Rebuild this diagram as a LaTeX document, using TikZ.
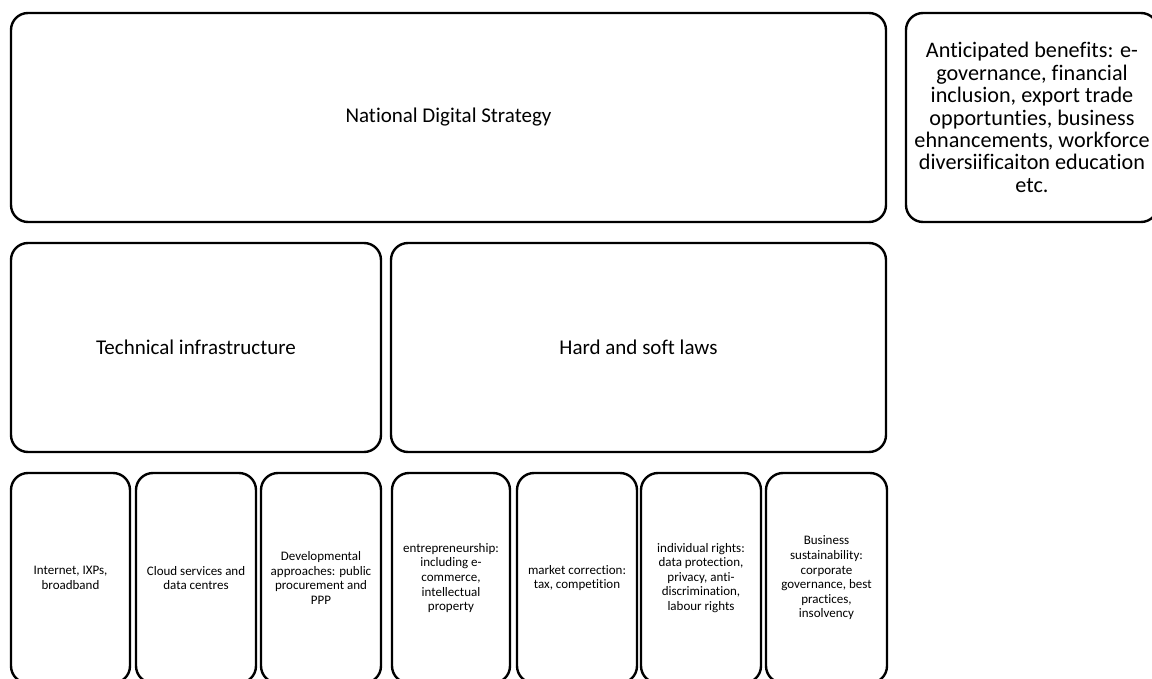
\documentclass[tikz,border=0pt]{standalone}
\usepackage{fontspec}
\setmainfont{Carlito}[Ligatures=NoCommon]
\begin{document}
\begin{tikzpicture}[x=1pt,y=-1pt,
  panel/.style={draw=black, line width=2.4pt, rounded corners=17pt, fill=white,
    inner sep=0pt, align=center},
  bigtext/.style={font=\fontsize{21}{25}\selectfont},
  smalltext/.style={font=\fontsize{13}{14.6}\selectfont},
  sidetext/.style={font=\fontsize{22.2}{22.4}\selectfont}]
\useasboundingbox (0,0) rectangle (1152,679);
\clip (0,0) rectangle (1152,679);
% top row
\node[panel, bigtext, minimum width=875pt, minimum height=209pt] (nds) at (448.5,117.5) {National Digital Strategy};
\node[panel, minimum width=252pt, minimum height=209pt] (benefits) at (1032,117.5) {};
\node[sidetext, align=center, inner sep=0pt] (benefitstext) at (benefits.center)
  {Anticipated benefits: e-\\governance, financial\\inclusion, export trade\\opportunties, business\\ehnancements, workforce\\diversiificaiton education\\etc.};
% middle row
\node[panel, bigtext, minimum width=370pt, minimum height=209pt] (tech) at (196,347.5) {Technical infrastructure};
\node[panel, bigtext, minimum width=495pt, minimum height=209pt] (laws) at (638.5,347.5) {Hard and soft laws};
% bottom row
\node[panel, smalltext, minimum width=119pt, minimum height=210pt] (net) at (70.5,578) {Internet, IXPs,\\broadband};
\node[panel, smalltext, minimum width=120pt, minimum height=210pt] (cloud) at (196,578) {Cloud services and\\data centres};
\node[panel, smalltext, minimum width=120pt, minimum height=210pt] (dev) at (321,578) {Developmental\\approaches: public\\procurement and\\PPP};
\node[panel, smalltext, minimum width=118pt, minimum height=210pt] (entre) at (451,578) {entrepreneurship:\\including e-\\commerce,\\intellectual\\property};
\node[panel, smalltext, minimum width=120pt, minimum height=210pt] (market) at (577,578) {market correction:\\tax, competition};
\node[panel, smalltext, minimum width=120pt, minimum height=210pt] (rights) at (701,578) {individual rights:\\data protection,\\privacy, anti-\\discrimination,\\labour rights};
\node[panel, smalltext, minimum width=121pt, minimum height=210pt] (business) at (826.5,578) {Business\\sustainability:\\corporate\\governance, best\\practices,\\insolvency};
\end{tikzpicture}
\end{document}
